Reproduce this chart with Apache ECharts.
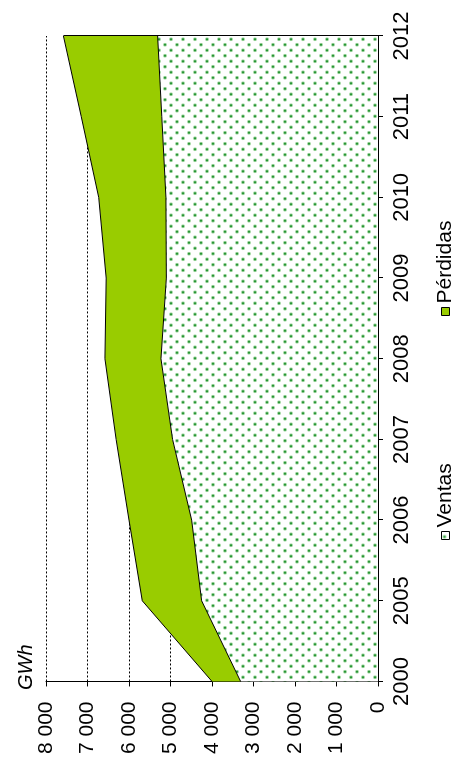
<!DOCTYPE html>
<html>
<head>
<meta charset="utf-8">
<script src="https://cdn.jsdelivr.net/npm/echarts@6/dist/echarts.min.js"></script>
<style>
  html, body { margin: 0; padding: 0; width: 451px; height: 757px; overflow: hidden; background: #fff; }
  /* chart is drawn landscape, then turned a quarter left like the original */
  #chart { position: absolute; left: 0; top: 0; width: 757px; height: 451px;
           transform-origin: 0 0; transform: translate(0, 757px) rotate(-90deg); }
</style>
</head>
<body>
<div id="chart"></div>
<script>
const years = ['2000', '2005', '2006', '2007', '2008', '2009', '2010', '2011', '2012']
const ventas = [3310, 4250, 4490, 4950, 5230, 5100, 5110, 5210, 5310]
const perdidas = [690, 1430, 1510, 1360, 1350, 1450, 1620, 1940, 2270]
const valueTicks = [0, 1000, 2000, 3000, 4000, 5000, 6000, 7000, 8000]

const font = "'Liberation Sans', Arial, sans-serif"

// dotted fill for Ventas
const dots = document.createElement('canvas')
dots.width = 11
dots.height = 12
const dctx = dots.getContext('2d')
dctx.fillStyle = '#fff'
dctx.fillRect(0, 0, 11, 12)
;[[2.75, 3], [8.25, 9]].forEach(([x, y]) => {
  dctx.fillStyle = '#9fd69f'
  dctx.beginPath()
  dctx.arc(x, y, 1.9, 0, Math.PI * 2)
  dctx.fill()
  dctx.fillStyle = '#1f8f2f'
  dctx.beginPath()
  dctx.arc(x, y, 1.1, 0, Math.PI * 2)
  dctx.fill()
})
const dotFill = { image: dots, repeat: 'repeat' }

const spaced = (v) => String(v).replace(/\B(?=(\d{3})+(?!\d))/g, ' ')
const lastYear = years[years.length - 1]
const lastTotal = ventas[ventas.length - 1] + perdidas[perdidas.length - 1]

const myChart = echarts.init(document.getElementById('chart'))

const option = {
  animation: false,
  textStyle: { fontFamily: font },
  title: {
    text: 'GWh',
    left: 62,
    top: 11,
    textStyle: { fontFamily: font, fontSize: 20, fontWeight: 'normal', fontStyle: 'italic', color: '#000' },
  },
  legend: [
    {
      data: [{ name: 'Ventas', itemStyle: { color: dotFill, borderColor: '#000', borderWidth: 1 } }],
      left: 212,
      top: 430,
      icon: 'rect',
      itemWidth: 8,
      itemHeight: 8,
      textStyle: { fontFamily: font, fontSize: 21, color: '#000', padding: [0, 0, 0, -1] },
    },
    {
      data: [{ name: 'Pérdidas', itemStyle: { color: '#99cc00', borderColor: '#000', borderWidth: 1 } }],
      left: 436,
      top: 430,
      icon: 'rect',
      itemWidth: 8,
      itemHeight: 8,
      textStyle: { fontFamily: font, fontSize: 21, color: '#000', padding: [0, 0, 0, -1] },
    },
  ],
  grid: { left: 74, right: 36, top: 46, bottom: 73 },
  xAxis: [
    {
      type: 'category',
      data: years,
      boundaryGap: false,
      axisLine: { lineStyle: { color: '#000', width: 1 } },
      axisTick: { length: 5, lineStyle: { color: '#000' } },
      axisLabel: { color: '#000', fontSize: 22, fontFamily: font, margin: 13 },
    },
    {
      // inner half of the crossing ticks
      type: 'category',
      data: years,
      boundaryGap: false,
      position: 'bottom',
      axisLine: { show: false },
      axisTick: { inside: true, length: 5, lineStyle: { color: '#000' } },
      axisLabel: { show: false },
    },
  ],
  yAxis: {
    type: 'value',
    min: 0,
    max: 8000,
    interval: 1000,
    axisLine: { show: true, lineStyle: { color: '#000', width: 1 } },
    axisTick: { show: true, length: 5, lineStyle: { color: '#000' } },
    axisLabel: {
      color: '#000',
      fontSize: 21,
      fontFamily: font,
      margin: 20,
      formatter: (v) => (valueTicks.includes(v) ? spaced(v) : ''),
    },
    splitLine: { show: true, lineStyle: { color: '#000', width: 1, type: [2, 2] } },
  },
  series: [
    {
      name: 'Ventas',
      type: 'line',
      stack: 'total',
      data: ventas,
      symbol: 'none',
      z: 3,
      lineStyle: { color: '#000', width: 1 },
      itemStyle: { color: dotFill },
      areaStyle: { color: dotFill, opacity: 1 },
    },
    {
      name: 'Pérdidas',
      type: 'line',
      stack: 'total',
      data: perdidas,
      symbol: 'none',
      z: 2,
      lineStyle: { color: '#000', width: 1 },
      itemStyle: { color: '#99cc00' },
      areaStyle: { color: '#99cc00', opacity: 1 },
      markLine: {
        silent: true,
        symbol: 'none',
        label: { show: false },
        lineStyle: { color: '#000', width: 1, type: 'solid' },
        data: [[{ coord: [lastYear, 0] }, { coord: [lastYear, lastTotal] }]],
      },
    },
  ],
}

myChart.setOption(option)
</script>
</body>
</html>
